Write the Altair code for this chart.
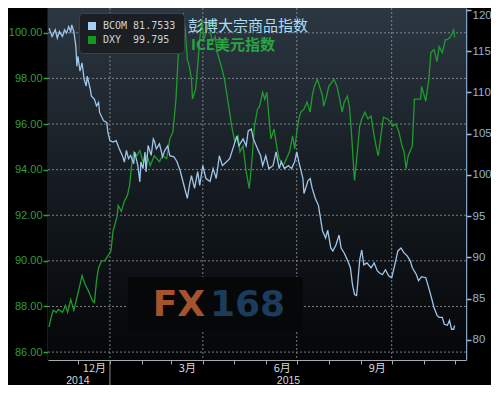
import altair as alt
import pandas as pd

# ---------------- data ----------------
bcom_dates = ["2014-11-03","2014-11-06","2014-11-09","2014-11-11","2014-11-13","2014-11-16","2014-11-18","2014-11-20","2014-11-22","2014-11-24","2014-11-25","2014-11-27","2014-11-29","2014-11-30",
"2014-12-01","2014-12-03","2014-12-05","2014-12-07","2014-12-09","2014-12-10","2014-12-13","2014-12-14","2014-12-17","2014-12-19","2014-12-21","2014-12-22","2014-12-25","2014-12-26","2014-12-29","2014-12-30",
"2015-01-01","2015-01-04","2015-01-07","2015-01-10","2015-01-13","2015-01-15","2015-01-17","2015-01-19","2015-01-21","2015-01-24","2015-01-25","2015-01-28","2015-01-30","2015-01-31",
"2015-02-02","2015-02-04","2015-02-05","2015-02-07","2015-02-10","2015-02-12","2015-02-13","2015-02-15","2015-02-18","2015-02-21","2015-02-23","2015-02-26","2015-02-28",
"2015-03-04","2015-03-07","2015-03-10","2015-03-12","2015-03-15","2015-03-17","2015-03-19","2015-03-21","2015-03-24","2015-03-27","2015-03-29",
"2015-04-01","2015-04-04","2015-04-08","2015-04-11","2015-04-14","2015-04-17","2015-04-20","2015-04-24","2015-04-27",
"2015-05-01","2015-05-04","2015-05-06","2015-05-10","2015-05-13","2015-05-15","2015-05-18","2015-05-20","2015-05-24","2015-05-27","2015-05-29",
"2015-06-01","2015-06-04","2015-06-08","2015-06-11","2015-06-14","2015-06-16","2015-06-19","2015-06-23","2015-06-26","2015-06-29",
"2015-07-01","2015-07-03","2015-07-07","2015-07-08","2015-07-12","2015-07-14","2015-07-16","2015-07-19","2015-07-22","2015-07-24","2015-07-26","2015-07-29","2015-07-31",
"2015-08-03","2015-08-05","2015-08-08","2015-08-11","2015-08-13","2015-08-16","2015-08-19","2015-08-22","2015-08-24","2015-08-26","2015-08-28","2015-08-29","2015-08-31",
"2015-09-02","2015-09-04","2015-09-07","2015-09-11","2015-09-14","2015-09-17","2015-09-19","2015-09-22","2015-09-25","2015-09-28",
"2015-10-01","2015-10-04","2015-10-07","2015-10-10","2015-10-13","2015-10-16","2015-10-19","2015-10-21","2015-10-25","2015-10-27","2015-10-30",
"2015-11-03","2015-11-05","2015-11-08","2015-11-11","2015-11-14","2015-11-16","2015-11-19","2015-11-21","2015-11-24","2015-11-26","2015-11-28","2015-11-30","2015-12-01"]
bcom_values = [117.80,116.79,117.60,116.60,117.39,116.79,117.60,117.20,117.99,117.39,118.20,117.39,115.59,113.19,
114.39,112.58,113.59,111.59,110.78,111.98,110.38,109.58,109.18,108.38,108.79,107.58,106.78,106.57,106.38,105.18,
104.17,103.98,104.17,103.17,102.37,101.57,102.97,101.97,102.37,101.37,102.78,101.17,99.17,101.57,
100.77,102.78,100.37,103.57,102.37,104.37,104.13,103.17,103.77,102.21,102.93,103.53,102.33,
102.21,101.61,100.53,99.57,98.12,97.16,98.73,99.93,98.37,100.41,98.73,
101.13,99.57,99.21,100.77,99.57,102.33,101.13,101.61,101.97,
103.53,104.74,103.53,104.37,103.53,105.34,105.58,104.37,103.17,102.33,101.13,
102.33,100.77,101.13,102.81,100.77,101.61,100.77,101.13,100.77,101.61,
102.81,101.61,99.57,97.76,99.33,99.57,98.37,97.16,96.32,94.76,93.20,92.36,93.32,
91.15,90.79,91.51,92.72,91.15,90.55,89.71,88.75,86.71,85.50,85.38,86.71,89.71,
90.91,89.11,89.35,88.75,89.35,88.39,88.15,87.91,88.51,87.79,
87.55,89.11,90.79,91.15,90.55,90.19,89.59,88.75,87.91,87.19,87.67,
87.55,86.71,85.38,83.94,82.98,82.74,82.74,81.90,81.78,82.38,81.30,81.30,81.7533]

dxy_dates = ["2014-11-03","2014-11-05","2014-11-07","2014-11-10","2014-11-12","2014-11-16","2014-11-19","2014-11-21","2014-11-24","2014-11-27","2014-11-30",
"2014-12-03","2014-12-05","2014-12-08","2014-12-11","2014-12-15","2014-12-17","2014-12-19","2014-12-21","2014-12-24","2014-12-27","2014-12-30",
"2015-01-02","2015-01-04","2015-01-08","2015-01-09","2015-01-12","2015-01-15","2015-01-18","2015-01-20","2015-01-22","2015-01-24","2015-01-27","2015-01-30",
"2015-02-02","2015-02-06","2015-02-09","2015-02-13","2015-02-18","2015-02-21","2015-02-25","2015-02-28",
"2015-03-03","2015-03-06","2015-03-08","2015-03-11","2015-03-13","2015-03-15","2015-03-17","2015-03-19","2015-03-21","2015-03-22","2015-03-25","2015-03-27","2015-03-29","2015-03-31",
"2015-04-02","2015-04-05","2015-04-07","2015-04-10","2015-04-13","2015-04-15","2015-04-19","2015-04-22","2015-04-25","2015-04-29",
"2015-05-02","2015-05-05","2015-05-07","2015-05-10","2015-05-13","2015-05-16","2015-05-19","2015-05-21","2015-05-24","2015-05-26","2015-05-29","2015-05-31",
"2015-06-02","2015-06-04","2015-06-06","2015-06-09","2015-06-12","2015-06-14","2015-06-18","2015-06-21","2015-06-24","2015-06-27","2015-06-29",
"2015-07-01","2015-07-03","2015-07-05","2015-07-08","2015-07-11","2015-07-14","2015-07-16","2015-07-18","2015-07-21","2015-07-24","2015-07-26","2015-07-27","2015-07-30",
"2015-08-01","2015-08-04","2015-08-06","2015-08-09","2015-08-11","2015-08-14","2015-08-16","2015-08-19","2015-08-21","2015-08-23","2015-08-25","2015-08-26","2015-08-29","2015-08-31",
"2015-09-02","2015-09-05","2015-09-08","2015-09-11","2015-09-14","2015-09-17","2015-09-18","2015-09-21","2015-09-23","2015-09-27","2015-09-29",
"2015-10-02","2015-10-05","2015-10-08","2015-10-11","2015-10-13","2015-10-15","2015-10-17","2015-10-21","2015-10-23","2015-10-27","2015-10-29","2015-10-30",
"2015-11-03","2015-11-06","2015-11-08","2015-11-11","2015-11-14","2015-11-16","2015-11-19","2015-11-22","2015-11-24","2015-11-27","2015-11-30","2015-12-01"]
dxy_values = [87.09,87.52,87.83,87.74,87.87,87.74,88.04,87.74,88.30,87.83,88.39,
88.96,89.35,88.96,88.70,88.26,88.17,89.13,89.70,90.00,90.00,90.22,
90.43,91.30,91.96,92.43,92.17,92.61,92.87,93.30,94.17,94.78,94.61,94.83,
94.35,94.61,94.17,94.61,94.35,94.61,94.48,95.35,
95.65,97.09,98.83,100.57,100.87,100.13,98.83,98.52,97.96,97.09,97.52,98.52,99.70,100.57,
99.70,100.13,100.57,99.57,99.83,99.13,98.52,97.96,97.09,95.91,
95.22,95.48,94.78,95.04,93.91,93.17,94.61,95.91,96.65,96.78,97.39,97.09,
97.39,96.35,95.35,95.78,94.91,94.48,94.17,94.48,94.78,95.48,94.91,
95.65,96.22,96.52,96.65,96.96,96.52,97.22,97.65,97.96,97.52,97.22,96.78,97.22,
97.65,97.83,97.96,97.65,97.22,96.52,96.96,97.22,96.78,95.65,94.17,93.52,94.91,95.91,
96.22,96.52,96.22,96.35,95.48,94.78,94.61,95.65,96.30,96.22,96.13,
95.91,96.00,95.65,95.04,94.78,94.04,94.61,95.04,97.09,97.09,97.09,97.65,
97.00,97.96,99.13,99.26,98.74,99.39,99.13,99.70,99.70,99.83,100.13,99.795]

series_names = ["BCOM", "DXY"]
series_last = ["81.7533", "99.795"]
series_colors = ["#9fc6ea", "#1f9c2c"]
legend_colors = ["#a8d0f4", "#15981f"]
left_ticks = [86, 88, 90, 92, 94, 96, 98, 100]
right_ticks = [80, 85, 90, 95, 100, 105, 110, 115, 120]
month_ticks = ["2014-12-01","2015-01-01","2015-02-01","2015-03-01","2015-04-01","2015-05-01","2015-06-01",
               "2015-07-01","2015-08-01","2015-09-01","2015-10-01","2015-11-01","2015-12-01"]
quarter_lines = ["2015-01-01", "2015-04-01", "2015-07-01", "2015-10-01"]
year_break = ["2015-01-01"]
year_text = ["2014", "2015"]
year_text_dates = ["2014-12-01", "2015-06-23"]
cn_titles = ["彭博大宗商品指数", "ICE美元指数"]
watermark = ["FX", "168"]
x_domain = ["2014-11-02", "2015-12-12"]
left_domain = [85.652, 101.087]
right_domain = [77.572, 120.24]

W, H = 418, 352


def dt(s):
    y, m, d = (int(p) for p in s.split("-"))
    return alt.DateTime(year=y, month=m, date=d, utc=True)


n = min(len(bcom_dates), len(bcom_values))
bcom_df = pd.DataFrame({"date": bcom_dates[:n], "value": bcom_values[:n]})
n = min(len(dxy_dates), len(dxy_values))
dxy_df = pd.DataFrame({"date": dxy_dates[:n], "value": dxy_values[:n]})

xscale = alt.Scale(type="utc", domain=[dt(s) for s in x_domain])
lscale = alt.Scale(domain=left_domain, nice=False, zero=False)
rscale = alt.Scale(domain=right_domain, nice=False, zero=False)

month_expr = ("(utcmonth(datum.value)==11 && utcyear(datum.value)==2014) ? '12月' : "
              "utcmonth(datum.value)==2 ? '3月' : utcmonth(datum.value)==5 ? '6月' : "
              "utcmonth(datum.value)==8 ? '9月' : ''")
xaxis = alt.Axis(values=[dt(s) for s in month_ticks], labelExpr=month_expr, title=None, grid=False,
                 domainColor="#a9adb1", tickColor="#a9adb1", tickSize=4, labelColor="#d8d8d8",
                 labelFont="Noto Sans CJK SC", labelFontSize=11, labelOffset=16, labelPadding=-2,
                 labelFlush=False, labelOverlap=False, labelBound=False)
laxis = alt.Axis(values=left_ticks, format=".2f", title=None, grid=False,
                 domainColor="#1f9a2e", domainWidth=1.5, tickColor="#2aa83a", tickSize=5, tickWidth=1.5,
                 labelColor="#2e9e3c", labelFont="Liberation Sans", labelFontSize=11, labelPadding=1)
raxis = alt.Axis(values=right_ticks, orient="right", title=None, grid=False,
                 domainColor="#7ea2c6", domainWidth=1.5, tickColor="#9cbfe2", tickSize=5, tickWidth=1.5,
                 labelColor="#8fb4da", labelFont="Liberation Sans", labelFontSize=11.5, labelPadding=1,
                 labelFlush=3)

legend_expr = (f"datum.label == '{series_names[0]}' ? '{series_names[0]}\u00a0{series_last[0]}' : "
               f"'{series_names[1]}\u00a0\u00a0{series_last[1]}'")
legend = alt.Legend(title=None, orient="none", legendX=31, legendY=5, direction="vertical",
                    fillColor="#1b1f24", strokeColor="#3a4047", cornerRadius=4, padding=8,
                    symbolType="square", symbolSize=64, symbolStrokeWidth=0, symbolOpacity=1,
                    labelFont="DejaVu Sans Mono", labelFontSize=10, labelColor="#cfd3d6",
                    labelExpr=legend_expr, rowPadding=4, labelOffset=6)

one = pd.DataFrame({"k": [0]})

bg = alt.Chart(one).mark_rect(
    fill=alt.Gradient(gradient="linear",
                      stops=[alt.GradientStop(color="#2c3742", offset=0),
                             alt.GradientStop(color="#151b21", offset=0.5),
                             alt.GradientStop(color="#050608", offset=1)],
                      x1=0, x2=0, y1=0, y2=1)
).encode(x=alt.value(0), x2=alt.value(W), y=alt.value(0), y2=alt.value(H))

vgrid = alt.Chart(pd.DataFrame({"date": quarter_lines})).mark_rule(
    color="#8c939a", strokeDash=[2, 2], strokeWidth=1, opacity=0.85
).encode(x=alt.X("date:T", scale=xscale, axis=xaxis))

hgrid = alt.Chart(pd.DataFrame({"v": left_ticks})).mark_rule(
    color="#8c939a", strokeDash=[2, 2], strokeWidth=1, opacity=0.85
).encode(y=alt.Y("v:Q", scale=lscale, axis=laxis))

box = alt.Chart(one).mark_rect(fill="#060708").encode(
    x=alt.value(80), x2=alt.value(255), y=alt.value(269), y2=alt.value(324))
fx = alt.Chart(one).mark_text(text=watermark[0], align="right", baseline="alphabetic", font="DejaVu Sans",
                              fontWeight="bold", fontSize=36, color="#a5532c").encode(
    x=alt.value(157), y=alt.value(308))
n168 = alt.Chart(one).mark_text(text=watermark[1], align="left", baseline="alphabetic", font="DejaVu Sans",
                                fontWeight="bold", fontSize=36, color="#1b3c5a").encode(
    x=alt.value(162), y=alt.value(308))

sep = alt.Chart(pd.DataFrame({"date": year_break})).mark_rule(color="#8a8f94", strokeWidth=1).encode(
    x=alt.X("date:T", scale=xscale, axis=xaxis), y=alt.value(H), y2=alt.value(H + 30))
years = alt.Chart(pd.DataFrame({"date": year_text_dates, "t": year_text})).mark_text(
    baseline="alphabetic", align="center", font="Liberation Sans", fontSize=10.5, color="#d8d8d8"
).encode(x=alt.X("date:T", scale=xscale, axis=xaxis), y=alt.value(H + 24), text="t:N")

dxy_line = alt.Chart(dxy_df).mark_line(strokeWidth=1.3, color=series_colors[1]).encode(
    x=alt.X("date:T", scale=xscale, axis=xaxis),
    y=alt.Y("value:Q", scale=lscale, axis=laxis))

# legend carrier: filled squares placed outside the visible canvas
legend_marks = alt.Chart(pd.DataFrame({"series": series_names})).mark_square(
    filled=True, size=1, opacity=1
).encode(
    x=alt.value(-60), y=alt.value(-60),
    color=alt.Color("series:N", scale=alt.Scale(domain=series_names, range=legend_colors), legend=legend))

cn1 = alt.Chart(one).mark_text(text=cn_titles[0], align="left", baseline="middle", font="Noto Sans CJK SC",
                               fontSize=15, color="#aadcf0").encode(x=alt.value(140), y=alt.value(18))
cn2 = alt.Chart(one).mark_text(text=cn_titles[1], align="left", baseline="middle", font="Noto Sans CJK SC",
                               fontSize=15, fontWeight="bold", color="#27a640").encode(x=alt.value(143), y=alt.value(37))

left_group = alt.layer(bg, vgrid, hgrid, box, fx, n168, sep, years, dxy_line, cn1, cn2, legend_marks)

bcom_line = alt.Chart(bcom_df).mark_line(strokeWidth=1.3, color=series_colors[0]).encode(
    x=alt.X("date:T", scale=xscale, axis=xaxis),
    y=alt.Y("value:Q", scale=rscale, axis=raxis))

chart = alt.layer(left_group, bcom_line).resolve_scale(y="independent").properties(
    width=W, height=H,
    autosize=alt.AutoSizeParams(type="none"),
    padding={"left": 40, "top": 0, "right": 25, "bottom": 25},
    background="#000000",
).configure_view(strokeWidth=0)

chart.save("out.html", embed_options={"renderer": "svg", "actions": False})
